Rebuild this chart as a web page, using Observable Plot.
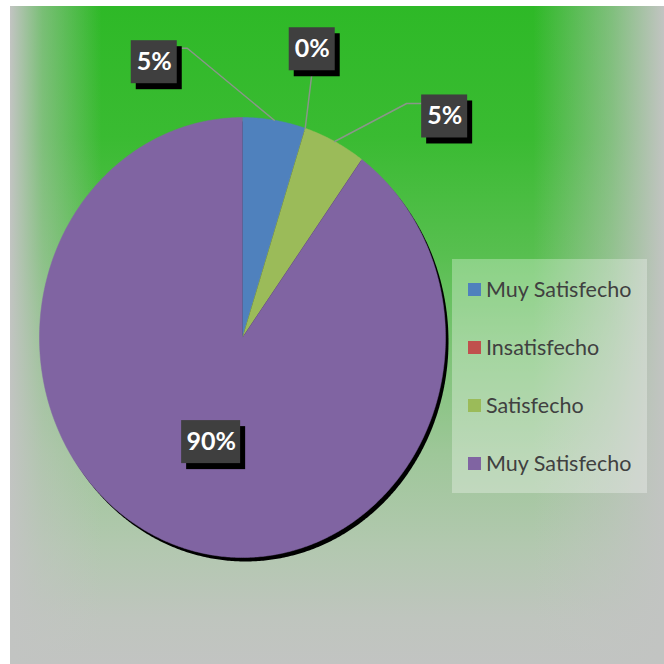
<!DOCTYPE html>
<html><head><meta charset="utf-8">
<script src="https://cdn.jsdelivr.net/npm/d3@7"></script>
<script src="https://cdn.jsdelivr.net/npm/@observablehq/plot@0.6"></script>
<style>
html,body{margin:0;padding:0;background:#fff;}
#wrap{position:relative;width:664px;height:664px;overflow:hidden;background:#fff;}
#bg{position:absolute;left:10px;top:6px;right:0;bottom:0;
 background:
  linear-gradient(to right, #c2c4c2 0%, rgba(194,196,194,0.5) 5%, rgba(194,196,194,0) 14%, rgba(194,196,194,0) 80%, rgba(194,196,194,0.55) 92%, #c2c4c2 100%),
  linear-gradient(to bottom, #2eb927 0%, #3abb32 20%, #58bf50 38%, #7cc375 52%, #9ec799 68%, #b2c8af 82%, #bfc5be 93%, #c2c4c2 100%);}
#chart{position:absolute;left:0;top:0;}
#legend{position:absolute;left:452px;top:259px;width:195px;height:234px;background:rgba(255,255,255,0.3);font-family:Lato,sans-serif;font-size:21.5px;color:#404040;}
.item{position:absolute;left:16px;display:flex;align-items:center;height:30px;white-space:nowrap;}
.sw{width:13px;height:13px;margin-right:5px;flex:none;}
</style></head>
<body>
<div id="wrap"><div id="bg"></div><div id="chart"></div><div id="legend"></div></div>
<script>
const categories = ["Muy Satisfecho", "Insatisfecho", "Satisfecho", "Muy Satisfecho"];
const values = [5, 0, 5, 90];
const valueLabels = ["5%", "0%", "5%", "90%"];
const colors = ["#4f81bd", "#c0504d", "#9bbb59", "#8064a2"];

// layout
const W = 664, H = 664;
const cx = 242, cy = 337, rx = 203, ry = 220;
const labelOffsets = [[-120, -58], [7, -79], [110, -25], null];
const insideRadius = 0.5;

const rows = categories.map((c, i) => ({i, category: c, value: values[i], label: valueLabels[i], color: colors[i]}));
const slices = d3.pie().sort(null).value(d => d.value)(rows);
const toXY = (a, f = 1) => [cx + rx * f * Math.sin(a), cy - ry * f * Math.cos(a)];

const wedgePts = [];
for (const s of slices) {
  const span = s.endAngle - s.startAngle;
  if (span <= 0) continue;
  const n = Math.max(2, Math.ceil(span / (Math.PI / 360)));
  wedgePts.push({k: s.data.i, x: cx, y: cy, color: s.data.color});
  for (let j = 0; j <= n; j++) {
    const [x, y] = toXY(s.startAngle + span * j / n);
    wedgePts.push({k: s.data.i, x, y, color: s.data.color});
  }
}
const shadowPts = d3.range(0, 721).map(j => { const [x, y] = toXY(j / 720 * 2 * Math.PI); return {x, y}; });

const boxes = [], leaders = [];
const bh = 43;
for (const s of slices) {
  const mid = (s.startAngle + s.endAngle) / 2;
  const d = s.data;
  const w = 20 + 13 * d.label.length, hw = w / 2, hh = bh / 2;
  let bx, by;
  const off = labelOffsets[d.i];
  if (off) {
    const [px, py] = toXY(mid);
    bx = px + off[0]; by = py + off[1];
    let pts;
    if (Math.abs(bx - px) < 30) pts = [[px, py], [bx, by + hh]];
    else if (bx < px) pts = [[px, py], [bx + hw + 10, by - 14], [bx + hw, by - 14]];
    else pts = [[px, py], [bx - hw - 15, by - 13], [bx - hw, by - 13]];
    pts.forEach(([x, y]) => leaders.push({k: d.i, x, y}));
  } else {
    [bx, by] = toXY(mid, insideRadius);
  }
  boxes.push({label: d.label, cx: bx, cy: by, x1: bx - hw, x2: bx + hw, y1: by - hh, y2: by + hh});
}

const chart = Plot.plot({
  width: W, height: H, margin: 0,
  x: {domain: [0, W], range: [0, W], axis: null},
  y: {domain: [0, H], range: [0, H], axis: null},
  color: {type: "identity"},
  style: {background: "transparent", overflow: "visible"},
  marks: [
    Plot.line(shadowPts, {x: "x", y: "y", fill: "black", stroke: "none", dx: 3, dy: 4}),
    Plot.line(wedgePts, {x: "x", y: "y", z: "k", fill: "color", stroke: "color", strokeWidth: 0.5}),
    Plot.line(leaders, {x: "x", y: "y", z: "k", stroke: "#8a968a", strokeWidth: 1.5}),
    Plot.rect(boxes, {x1: "x1", x2: "x2", y1: "y1", y2: "y2", fill: "black", dx: 5, dy: 6}),
    Plot.rect(boxes, {x1: "x1", x2: "x2", y1: "y1", y2: "y2", fill: "#3f3f3f"}),
    Plot.text(boxes, {x: "cx", y: "cy", text: "label", fill: "white", fontWeight: "bold", fontSize: 25, fontFamily: "Lato, sans-serif"})
  ]
});
document.getElementById("chart").appendChild(chart);

const legend = d3.select("#legend");
rows.forEach((r, i) => {
  const it = legend.append("div").attr("class", "item").style("top", (15 + i * 58) + "px");
  it.append("div").attr("class", "sw").style("background", r.color);
  it.append("span").text(r.category);
});
</script>
</body></html>
